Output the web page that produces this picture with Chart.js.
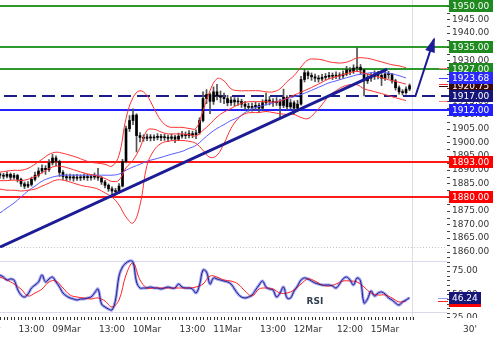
<!DOCTYPE html>
<html>
<head>
<meta charset="utf-8">
<script src="https://cdn.jsdelivr.net/npm/chart.js@4.4.0/dist/chart.umd.min.js"></script>
<style>
html, body { margin: 0; padding: 0; background: #fff; }
#wrap { position: relative; width: 500px; height: 339px; overflow: hidden; }
canvas { position: absolute; left: 0; }
#priceChart { top: 0; }
#rsiChart { top: 248px; }
</style>
</head>
<body>
<div id="wrap">
  <canvas id="priceChart" width="500" height="258"></canvas>
  <canvas id="rsiChart" width="500" height="91"></canvas>
</div>
<script>
// hourly bars, hour 0 = 08Mar 04:00 (23h trading days)
const closes = [
  1888.0, 1887.6, 1888.3, 1887.2, 1887.9, 1886.5, 1884.8, 1884.0, 1884.6, 1886.5,
  1888.0, 1889.5, 1890.5, 1890.0, 1892.5, 1894.3, 1893.0, 1889.0, 1887.5, 1887.0,
  1887.4, 1886.9, 1887.3, 1887.0, 1887.5, 1887.1, 1887.3, 1887.6, 1887.0, 1885.5,
  1884.3, 1883.0, 1882.2, 1882.0, 1884.0, 1893.0, 1905.0, 1908.0, 1910.0, 1902.5,
  1901.8, 1901.5, 1902.0, 1901.6, 1901.8, 1902.2, 1901.7, 1901.9, 1901.5, 1902.0,
  1901.2, 1902.3, 1902.8, 1902.5, 1903.2, 1902.8, 1903.5, 1908.0, 1916.0, 1917.5,
  1915.0, 1918.5, 1917.0, 1916.5, 1916.0, 1914.5, 1915.5, 1914.8, 1915.0, 1914.0,
  1913.2, 1912.8, 1913.0, 1913.5, 1912.5, 1914.5, 1915.5, 1915.0, 1914.5, 1915.0,
  1913.5, 1916.5, 1913.0, 1914.5, 1912.5, 1914.0, 1923.0, 1925.5, 1924.5, 1924.0,
  1923.5, 1923.2, 1923.8, 1924.0, 1924.5, 1924.2, 1924.6, 1924.3, 1925.0, 1926.5,
  1926.0, 1927.2, 1927.5, 1926.5, 1922.5, 1923.5, 1924.0, 1925.0, 1924.5, 1923.5,
  1925.0, 1924.8, 1922.5, 1920.0, 1918.5, 1918.2, 1919.5, 1920.75
];
const highs = [
  1888.8, 1888.7, 1889.2, 1888.8, 1888.7, 1888.3, 1886.9, 1885.5, 1885.7, 1887.3,
  1889.1, 1890.7, 1891.8, 1891.5, 1893.7, 1895.6, 1895.1, 1893.5, 1889.7, 1888.4,
  1888.4, 1888.2, 1888.3, 1888.1, 1888.5, 1888.3, 1888.3, 1888.8, 1890.5, 1887.5,
  1886.1, 1884.8, 1883.7, 1883.2, 1884.9, 1893.8, 1906.0, 1909.8, 1912.3, 1910.5,
  1903.6, 1902.8, 1903.0, 1902.9, 1902.8, 1903.2, 1902.9, 1903.0, 1902.7, 1903.1,
  1902.6, 1903.4, 1904.0, 1903.8, 1904.3, 1904.1, 1904.6, 1909.0, 1918.5, 1919.3,
  1918.1, 1920.3, 1921.2, 1918.8, 1918.0, 1917.2, 1916.8, 1916.4, 1916.3, 1915.8,
  1915.0, 1914.3, 1914.4, 1914.7, 1914.4, 1915.6, 1918.0, 1916.8, 1916.0, 1916.4,
  1915.8, 1919.5, 1917.1, 1915.7, 1915.2, 1915.4, 1924.2, 1926.7, 1926.2, 1925.4,
  1925.0, 1924.5, 1924.9, 1925.2, 1925.6, 1925.4, 1925.8, 1925.5, 1926.2, 1927.8,
  1927.4, 1928.4, 1934.6, 1928.5, 1926.8, 1925.0, 1925.4, 1926.2, 1926.0, 1925.2,
  1926.3, 1926.0, 1925.3, 1923.1, 1920.7, 1919.3, 1920.3, 1921.4
];
const lows = [
  1886.9, 1886.6, 1887.0, 1886.3, 1886.5, 1885.5, 1883.9, 1883.1, 1883.4, 1884.0,
  1885.9, 1887.3, 1888.7, 1888.3, 1889.4, 1891.7, 1891.5, 1887.5, 1886.4, 1885.9,
  1886.2, 1885.8, 1886.1, 1886.0, 1886.3, 1886.1, 1886.2, 1886.5, 1886.1, 1884.6,
  1883.3, 1882.1, 1881.0, 1880.7, 1881.3, 1883.7, 1892.5, 1904.0, 1906.5, 1896.5,
  1900.2, 1900.4, 1900.6, 1900.5, 1900.6, 1900.9, 1900.6, 1900.7, 1900.3, 1900.8,
  1899.9, 1900.6, 1901.5, 1901.4, 1901.6, 1901.7, 1901.4, 1903.0, 1907.5, 1914.2,
  1910.5, 1913.9, 1915.5, 1914.6, 1914.2, 1913.4, 1913.5, 1913.3, 1913.5, 1912.8,
  1912.0, 1911.4, 1911.4, 1911.8, 1911.2, 1911.9, 1913.6, 1913.7, 1913.2, 1913.5,
  1909.0, 1912.7, 1911.9, 1912.1, 1910.5, 1911.5, 1913.6, 1922.1, 1923.2, 1922.7,
  1922.2, 1922.0, 1922.5, 1922.8, 1923.2, 1923.0, 1923.3, 1923.1, 1923.5, 1924.4,
  1924.8, 1925.2, 1926.0, 1925.0, 1917.0, 1921.5, 1922.3, 1923.0, 1923.2, 1920.8,
  1922.7, 1923.4, 1921.7, 1919.1, 1917.6, 1917.3, 1917.6, 1918.9
];

// bollinger bands and moving average, one value every 2 hours
const bandUpper = [
  1889.1, 1889.5, 1889.8, 1889.8, 1890.5, 1892.0, 1893.8, 1895.6, 1896.4, 1896.0,
  1895.3, 1894.5, 1893.5, 1892.7, 1892.4, 1892.0, 1891.3, 1895.3, 1908.7, 1916.4,
  1918.9, 1917.1, 1912.4, 1908.0, 1905.8, 1905.5, 1905.5, 1905.1, 1905.1, 1911.6,
  1918.9, 1923.3, 1922.5, 1919.6, 1918.9, 1918.9, 1918.9, 1918.9, 1918.5, 1918.5,
  1919.6, 1922.2, 1924.4, 1927.6, 1930.2, 1930.5, 1930.2, 1929.5, 1929.1, 1929.1,
  1929.8, 1930.9, 1930.9, 1930.5, 1929.8, 1929.1, 1928.4, 1928.0, 1927.3
];
const bandMiddle = [
  1886.0, 1886.0, 1886.2, 1886.0, 1886.5, 1887.5, 1888.9, 1890.4, 1891.3, 1891.1,
  1890.4, 1889.6, 1888.8, 1888.2, 1887.7, 1886.8, 1885.7, 1886.2, 1890.7, 1893.5,
  1898.0, 1904.4, 1904.8, 1903.8, 1903.1, 1903.1, 1903.1, 1902.8, 1902.4, 1904.4,
  1906.7, 1909.3, 1911.1, 1912.4, 1913.8, 1914.7, 1914.9, 1914.9, 1914.9, 1914.7,
  1915.1, 1916.2, 1917.3, 1918.4, 1919.5, 1920.7, 1922.0, 1923.3, 1924.0, 1924.8,
  1925.5, 1926.0, 1925.3, 1924.7, 1924.0, 1923.3, 1922.6, 1922.0, 1921.3
];
const bandLower = [
  1882.9, 1882.5, 1882.5, 1882.2, 1882.5, 1882.9, 1884.0, 1885.1, 1886.2, 1886.2,
  1885.5, 1884.7, 1884.0, 1883.6, 1882.9, 1881.5, 1880.0, 1877.1, 1872.7, 1870.5,
  1877.1, 1891.6, 1897.1, 1899.6, 1900.4, 1900.7, 1900.7, 1900.4, 1899.6, 1897.1,
  1894.5, 1895.3, 1899.6, 1905.1, 1908.7, 1910.5, 1910.9, 1910.9, 1911.3, 1910.9,
  1910.5, 1910.2, 1910.2, 1909.1, 1908.7, 1910.9, 1913.8, 1917.1, 1918.9, 1920.4,
  1921.1, 1921.1, 1919.6, 1918.9, 1918.2, 1917.5, 1916.7, 1916.0, 1915.3
];
const movingAvg = [
  1874.2, 1876.0, 1877.8, 1880.0, 1882.2, 1884.0, 1885.8, 1886.9, 1887.6, 1888.0,
  1888.0, 1888.0, 1888.0, 1888.0, 1888.0, 1888.0, 1888.0, 1888.4, 1889.8, 1891.0,
  1892.0, 1893.1, 1893.8, 1894.5, 1895.3, 1896.0, 1896.7, 1897.8, 1898.9, 1901.1,
  1903.3, 1905.1, 1906.5, 1908.0, 1909.1, 1910.9, 1912.4, 1913.1, 1913.8, 1914.5,
  1915.3, 1916.0, 1916.7, 1917.5, 1918.5, 1919.6, 1920.7, 1921.8, 1922.5, 1923.3,
  1924.0, 1924.7, 1925.1, 1925.5, 1925.5, 1925.5, 1925.1, 1924.4, 1923.6
];

// RSI hourly, signal every 2 hours
const rsi = [
  70.7, 68.5, 65.3, 66.4, 65.3, 55.6, 49.2, 47.0, 50.3, 56.7,
  59.9, 63.2, 70.7, 63.2, 66.4, 68.5, 63.2, 57.8, 51.3, 48.1,
  46.0, 44.9, 43.8, 44.9, 44.9, 46.0, 47.0, 51.3, 55.6, 39.5,
  36.3, 34.1, 33.1, 43.8, 69.6, 79.3, 83.6, 85.8, 84.7, 63.2,
  56.7, 56.7, 56.7, 57.8, 56.7, 56.7, 55.6, 56.7, 57.8, 56.7,
  56.7, 61.0, 57.8, 56.7, 56.7, 55.6, 51.3, 59.9, 76.1, 73.9,
  61.0, 67.5, 66.4, 65.3, 64.2, 63.2, 61.0, 55.6, 50.3, 47.0,
  46.0, 47.0, 49.2, 54.6, 59.9, 64.2, 57.8, 55.6, 54.6, 47.0,
  51.3, 57.8, 46.0, 46.0, 53.5, 58.9, 65.3, 67.5, 66.4, 64.2,
  62.1, 61.0, 59.9, 59.9, 59.9, 58.9, 56.7, 61.0, 66.4, 68.5,
  65.3, 59.9, 67.5, 64.2, 40.6, 44.9, 53.5, 48.1, 51.3, 52.4,
  50.3, 46.0, 43.8, 40.6, 38.4, 41.7, 43.8, 46.24
];
const rsiSignal = [
  68.5, 65.3, 61.0, 55.6, 48.1, 51.3, 55.6, 63.2, 64.2, 56.7,
  49.2, 47.0, 46.0, 44.9, 46.0, 42.7, 36.3, 43.8, 70.7, 83.6,
  65.3, 56.7, 56.7, 56.7, 56.7, 56.7, 56.7, 56.7, 57.8, 61.0,
  69.6, 68.5, 65.3, 64.2, 61.0, 53.5, 48.1, 55.6, 56.7, 55.6,
  51.3, 51.3, 54.6, 61.0, 66.4, 64.2, 59.9, 58.9, 61.0, 64.2,
  64.2, 63.2, 57.8, 51.3, 49.2, 49.2, 46.0, 41.7, 42.7
];

// levels and drawn lines
const resistanceLevels = [1950, 1935, 1927];
const pivotLevels = [1917];
const supportLevels = [1912];
const lowerLevels = [1893, 1880];
const trendHours = [0, 110.6];
const trendPrices = [1861.7, 1926.8];
const arrowHours = [118.6, 124.0];
const arrowPrices = [1916.6, 1937.8];
const lastMA = 1923.68;
const lastClose = 1920.75;
const nowHour = 117.7;

// axis ticks
const priceTicks = [1860, 1865, 1870, 1875, 1880, 1885, 1890, 1895, 1900, 1905, 1910, 1915, 1920, 1925, 1930, 1935, 1940, 1945, 1950];
const rsiTicks = [25, 50, 75];
const rsiGuides = [85.8, 30.9];
const xTickHours = [-4, 9, 19, 32, 42, 55, 65, 78, 88, 100, 110];
const xTickLabels = ['08Mar', '13:00', '09Mar', '13:00', '10Mar', '13:00', '11Mar', '13:00', '12Mar', '12:00', '15Mar'];

const FONT = '9px "DejaVu Sans", Verdana, sans-serif';
const NAVY = '#1c1c96';

const pts = (xs, ys) => ys.map((v, i) => ({ x: xs[i], y: v }));
const hours = closes.map((_, i) => i);
const bandHours = bandUpper.map((_, i) => i * 2);

function hline(ctx, x1, x2, y) {
  ctx.beginPath(); ctx.moveTo(x1, y); ctx.lineTo(x2, y); ctx.stroke();
}

function valueBox(ctx, left, yPix, text, bg) {
  ctx.font = FONT;
  const w = Math.ceil(ctx.measureText(text).width) + 6;
  const top = Math.round(yPix) - 6;
  ctx.fillStyle = bg;
  ctx.fillRect(left, top, w, 12);
  ctx.fillStyle = '#fff';
  ctx.textAlign = 'left';
  ctx.textBaseline = 'middle';
  ctx.fillText(text, left + 3, top + 6.5);
}

const levelStyles = [
  { values: resistanceLevels, line: '#2e9a2e', box: '#1f8a1f', dash: [] },
  { values: pivotLevels, line: '#1c1c8a', box: '#16167a', dash: [13, 6] },
  { values: supportLevels, line: '#2222ff', box: '#1f1fff', dash: [] },
  { values: lowerLevels, line: '#ff1a1a', box: '#ff0000', dash: [] }
];

const pricePlugin = {
  id: 'priceDecor',
  beforeDatasetsDraw(chart) {
    const { ctx, chartArea: a, scales: { x, y } } = chart;
    ctx.save();
    ctx.lineWidth = 1;
    ctx.strokeStyle = '#dedee8';
    const nx = Math.round(x.getPixelForValue(nowHour)) + 0.5;
    ctx.beginPath(); ctx.moveTo(nx, 0); ctx.lineTo(nx, a.bottom); ctx.stroke();
    ctx.strokeStyle = '#c4c4c4';
    ctx.setLineDash([1, 2]);
    hline(ctx, 0, a.right, a.bottom - 0.5);
    ctx.lineWidth = 2;
    levelStyles.forEach(s => {
      ctx.strokeStyle = s.line;
      ctx.setLineDash(s.dash);
      ctx.lineDashOffset = -4;
      s.values.forEach(v => hline(ctx, 0, a.right + 2, Math.round(y.getPixelForValue(v))));
    });
    ctx.restore();
  },
  afterDatasetsDraw(chart) {
    const { ctx, scales: { x, y } } = chart;
    const x0 = x.getPixelForValue(arrowHours[0]), y0 = y.getPixelForValue(arrowPrices[0]);
    const x1 = x.getPixelForValue(arrowHours[1]), y1 = y.getPixelForValue(arrowPrices[1]);
    const ang = Math.atan2(y1 - y0, x1 - x0);
    const L = 13, W = 5;
    const c = Math.cos(ang), s = Math.sin(ang);
    ctx.save();
    ctx.fillStyle = NAVY;
    ctx.beginPath();
    ctx.moveTo(x1 + c * 2, y1 + s * 2);
    ctx.lineTo(x1 - L * c + W * s, y1 - L * s - W * c);
    ctx.lineTo(x1 - L * c - W * s, y1 - L * s + W * c);
    ctx.closePath();
    ctx.fill();
    ctx.restore();
  },
  afterDraw(chart) {
    const { ctx, chartArea: a, scales: { y } } = chart;
    ctx.save();
    // little last-value marks in front of the axis
    const marks = [
      [bandUpper[bandUpper.length - 1], '#ff8080'],
      [bandLower[bandLower.length - 1], '#ff8080'],
      [bandMiddle[bandMiddle.length - 1], '#ff3030'],
      [lastMA, '#4040ff'],
      [lastClose, '#400000']
    ];
    ctx.lineWidth = 1;
    marks.forEach(([v, col]) => {
      ctx.strokeStyle = col;
      hline(ctx, a.right - 8, a.right + 1, Math.round(y.getPixelForValue(v)) + 0.5);
    });
    // axis dashes and labels, cut off at the panel edge
    ctx.beginPath(); ctx.rect(a.right, 0, chart.width - a.right, 255); ctx.clip();
    ctx.strokeStyle = '#444';
    for (let v = priceTicks[0]; v <= priceTicks[priceTicks.length - 1] + 2.5; v += 2.5) {
      hline(ctx, a.right, a.right + 3, Math.round(y.getPixelForValue(v)) + 0.5);
    }
    ctx.fillStyle = '#333';
    ctx.font = FONT;
    ctx.textAlign = 'left';
    ctx.textBaseline = 'middle';
    priceTicks.forEach(v => ctx.fillText(v.toFixed(2), a.right + 5, y.getPixelForValue(v)));
    // value boxes
    const left = a.right + 2;
    resistanceLevels.forEach(v => valueBox(ctx, left, y.getPixelForValue(v), v.toFixed(2), '#1f8a1f'));
    valueBox(ctx, left, y.getPixelForValue(lastClose), lastClose.toFixed(2), '#3a0808');
    valueBox(ctx, left, y.getPixelForValue(lastMA), lastMA.toFixed(2), '#2a2aff');
    levelStyles.slice(1).forEach(s => s.values.forEach(v => valueBox(ctx, left, y.getPixelForValue(v), v.toFixed(2), s.box)));
    ctx.restore();
  }
};

const lineDs = (data, color, width) => ({
  type: 'line', data, borderColor: color, borderWidth: width,
  pointRadius: 0, fill: false, tension: 0.4
});

new Chart(document.getElementById('priceChart'), {
  type: 'line',
  data: {
    datasets: [
      Object.assign(lineDs(pts(trendHours, trendPrices), NAVY, 3), { tension: 0 }),
      Object.assign(lineDs(pts(arrowHours, arrowPrices), NAVY, 2), { tension: 0 }),
      lineDs(pts(bandHours, bandUpper), '#ff3030', 1),
      lineDs(pts(bandHours, bandMiddle), '#ff3030', 1),
      lineDs(pts(bandHours, bandLower), '#ff3030', 1),
      lineDs(pts(bandHours, movingAvg), '#5a5aff', 1),
      {
        type: 'bar', grouped: false, barThickness: 2, minBarLength: 1,
        backgroundColor: '#000',
        data: closes.map((c, i) => ({ x: hours[i], y: [i ? closes[i - 1] : c, c] }))
      },
      {
        type: 'bar', grouped: false, barThickness: 1,
        backgroundColor: '#505050',
        data: closes.map((c, i) => ({ x: hours[i], y: [lows[i], highs[i]] }))
      }
    ]
  },
  options: {
    responsive: false,
    devicePixelRatio: 1,
    animation: false,
    events: [],
    layout: { padding: { left: 0, right: 53, top: 0, bottom: 10 } },
    scales: {
      x: { type: 'linear', min: 0, max: 127.7, offset: false, display: false },
      y: { type: 'linear', min: 1861.35, max: 1952.1, display: false }
    },
    plugins: { legend: { display: false }, tooltip: { enabled: false } }
  },
  plugins: [pricePlugin]
});

const rsiPlugin = {
  id: 'rsiDecor',
  beforeDatasetsDraw(chart) {
    const { ctx, chartArea: a, scales: { x, y } } = chart;
    ctx.save();
    ctx.lineWidth = 1;
    ctx.strokeStyle = '#dadaec';
    rsiGuides.forEach(v => hline(ctx, 0, a.right, Math.round(y.getPixelForValue(v)) + 0.5));
    ctx.strokeStyle = '#dedee8';
    const nx = Math.round(x.getPixelForValue(nowHour)) + 0.5;
    ctx.beginPath(); ctx.moveTo(nx, 0); ctx.lineTo(nx, a.bottom + 3); ctx.stroke();
    ctx.fillStyle = '#2f3f50';
    ctx.font = 'bold 9px "DejaVu Sans", Verdana, sans-serif';
    ctx.textAlign = 'center';
    ctx.textBaseline = 'middle';
    ctx.fillText('RSI', 315, 54);
    ctx.restore();
  },
  afterDraw(chart) {
    const { ctx, chartArea: a, scales: { x, y } } = chart;
    ctx.save();
    ctx.lineWidth = 1;
    ctx.strokeStyle = '#333';
    // hourly ticks along the time axis
    for (let h = 0; h <= 118; h++) {
      const px = Math.round(x.getPixelForValue(h)) + 0.5;
      ctx.beginPath(); ctx.moveTo(px, a.bottom); ctx.lineTo(px, a.bottom + 3); ctx.stroke();
    }
    ctx.fillStyle = '#333';
    ctx.font = FONT;
    ctx.textAlign = 'center';
    ctx.textBaseline = 'middle';
    xTickHours.forEach((h, i) => ctx.fillText(xTickLabels[i], x.getPixelForValue(h), a.bottom + 13));
    ctx.fillText("30'", 470, a.bottom + 13);
    // last-value marks
    ctx.strokeStyle = '#9a9af0';
    hline(ctx, a.right - 9, a.right + 1, Math.round(y.getPixelForValue(rsi[rsi.length - 1])) + 0.5);
    ctx.strokeStyle = '#ff2020';
    hline(ctx, a.right - 9, a.right + 1, Math.round(y.getPixelForValue(rsiSignal[rsiSignal.length - 1])) + 0.5);
    // value axis, clipped to the panel
    ctx.save();
    ctx.beginPath(); ctx.rect(a.right, 0, chart.width - a.right, a.bottom + 1); ctx.clip();
    ctx.strokeStyle = '#444';
    for (let v = 25; v <= 90; v += 5) hline(ctx, a.right, a.right + 3, Math.round(y.getPixelForValue(v)) + 0.5);
    ctx.textAlign = 'left';
    rsiTicks.forEach(v => ctx.fillText(v.toFixed(2), a.right + 5, y.getPixelForValue(v)));
    ctx.restore();
    const left = a.right + 2;
    const sig = rsiSignal[rsiSignal.length - 1];
    valueBox(ctx, left, y.getPixelForValue(sig), sig.toFixed(2), '#ff0000');
    const last = rsi[rsi.length - 1];
    valueBox(ctx, left, y.getPixelForValue(last), last.toFixed(2), '#16167a');
    ctx.restore();
  }
};

new Chart(document.getElementById('rsiChart'), {
  type: 'line',
  data: {
    datasets: [
      lineDs(pts(hours, rsi), '#20208c', 1),
      lineDs(pts(bandHours, rsiSignal), '#ff2020', 1),
      lineDs(pts(hours, rsi), '#a4a4f2', 3)
    ]
  },
  options: {
    responsive: false,
    devicePixelRatio: 1,
    animation: false,
    events: [],
    layout: { padding: { left: 0, right: 53, top: 10, bottom: 22 } },
    scales: {
      x: { type: 'linear', min: 0, max: 127.7, offset: false, display: false },
      y: { type: 'linear', min: 25.5, max: 89, display: false }
    },
    plugins: { legend: { display: false }, tooltip: { enabled: false } }
  },
  plugins: [rsiPlugin]
});
</script>
</body>
</html>
